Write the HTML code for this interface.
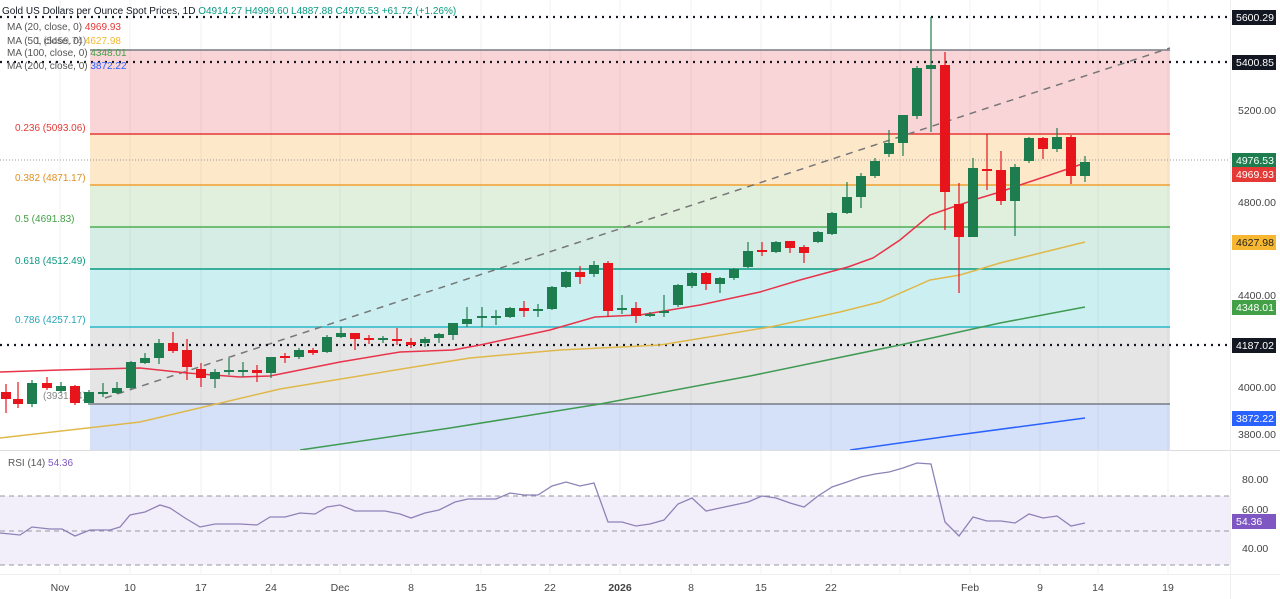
<!DOCTYPE html>
<html><head><meta charset="utf-8">
<style>
html,body{margin:0;padding:0;background:#fff;}
body{width:1280px;height:599px;overflow:hidden;font-family:"Liberation Sans",sans-serif;}
svg{display:block}
</style></head><body>
<svg id="c" width="1280" height="599" viewBox="0 0 1280 599" xmlns="http://www.w3.org/2000/svg" font-family="Liberation Sans, sans-serif">
<rect x="0" y="0" width="1280" height="599" fill="#fff"/>
<rect x="90" y="50" width="1080" height="84" fill="#f9d5d8"/>
<rect x="90" y="134" width="1080" height="51" fill="#fde8c9"/>
<rect x="90" y="185" width="1080" height="42" fill="#e1f0dc"/>
<rect x="90" y="227" width="1080" height="42" fill="#d5ede5"/>
<rect x="90" y="269" width="1080" height="58" fill="#ccf0f2"/>
<rect x="90" y="327" width="1080" height="77" fill="#e5e5e6"/>
<rect x="90" y="404" width="1080" height="46" fill="#d5e1f8"/>
<g id="grid" stroke="#000" stroke-opacity="0.05" stroke-width="1"></g>
<line x1="90" y1="50" x2="1170" y2="50" stroke="#787b86" stroke-width="1.5"/>
<line x1="90" y1="134" x2="1170" y2="134" stroke="#e53935" stroke-width="1.5"/>
<line x1="90" y1="185" x2="1170" y2="185" stroke="#f0a030" stroke-width="1.5"/>
<line x1="90" y1="227" x2="1170" y2="227" stroke="#4caf50" stroke-width="1.5"/>
<line x1="90" y1="269" x2="1170" y2="269" stroke="#089981" stroke-width="1.5"/>
<line x1="90" y1="327" x2="1170" y2="327" stroke="#26b8c8" stroke-width="1.5"/>
<line x1="90" y1="404" x2="1170" y2="404" stroke="#787b86" stroke-width="1.5"/>
<line x1="0" y1="160" x2="1230" y2="160" stroke="#999" stroke-width="1" stroke-dasharray="1,2"/>
<g fill="#555" font-size="10">
<text x="15" y="131" fill="#e53935">0.236 (5093.06)</text>
<text x="15" y="181" fill="#e09020">0.382 (4871.17)</text>
<text x="15" y="222" fill="#43a047">0.5 (4691.83)</text>
<text x="15" y="264" fill="#089981">0.618 (4512.49)</text>
<text x="15" y="323" fill="#26a6b8">0.786 (4257.17)</text>
<text x="43" y="399" fill="#888">(3931.74)</text>
<text x="35" y="44" fill="#888">1 (5459.74)</text>
</g>
<line x1="105" y1="398" x2="1170" y2="48" stroke="#777" stroke-width="1.5" stroke-dasharray="7,6"/>
<g stroke="#131722" stroke-width="2.2" stroke-dasharray="2,5">
<line x1="0" y1="17" x2="1228" y2="17"/>
<line x1="0" y1="62" x2="1228" y2="62"/>
<line x1="0" y1="345" x2="1228" y2="345"/>
</g>
<g id="mas" fill="none" stroke-width="1.5"></g>
<g id="candles"></g>
<line x1="0" y1="450.5" x2="1280" y2="450.5" stroke="#ddd"/>
<line x1="1230.5" y1="0" x2="1230.5" y2="599" stroke="#eee"/>
<line x1="0" y1="574.5" x2="1280" y2="574.5" stroke="#eee"/>
<rect x="0" y="496" width="1230" height="69" fill="#f3effa"/>
<g stroke="#9598a1" stroke-dasharray="5,4" stroke-width="1">
<line x1="0" y1="496" x2="1230" y2="496"/>
<line x1="0" y1="531" x2="1230" y2="531"/>
<line x1="0" y1="565" x2="1230" y2="565"/>
</g>
<polyline id="rsi" fill="none" stroke="#8e82b8" stroke-width="1.3"/>
<text x="8" y="466" font-size="10" fill="#555">RSI (14) <tspan fill="#7e57c2">54.36</tspan></text>
<g font-size="10">
<text x="2" y="14" fill="#131722">Gold US Dollars per Ounce Spot Prices, 1D <tspan fill="#089981">O4914.27 H4999.60 L4887.88 C4976.53 +61.72 (+1.26%)</tspan></text>
<text x="7" y="30" fill="#555">MA (20, close, 0) <tspan fill="#e53935">4969.93</tspan></text>
<text x="7" y="44" fill="#555">MA (50, close, 0) <tspan fill="#f2b830">4627.98</tspan></text>
<text x="7" y="56" fill="#555">MA (100, close, 0) <tspan fill="#43a047">4348.01</tspan></text>
<text x="7" y="69" fill="#555">MA (200, close, 0) <tspan fill="#2962ff">3872.22</tspan></text>
</g>
<g font-size="10.5" fill="#444">
<text x="1238" y="114">5200.00</text>
<text x="1238" y="206">4800.00</text>
<text x="1238" y="299">4400.00</text>
<text x="1238" y="391">4000.00</text>
<text x="1238" y="438">3800.00</text>
<text x="1242" y="483">80.00</text>
<text x="1242" y="513">60.00</text>
<text x="1242" y="552">40.00</text>
</g>
<g font-size="10.5" fill="#fff">
<rect x="1232" y="10" width="44" height="15" fill="#131722"/><text x="1236" y="21">5600.29</text>
<rect x="1232" y="55" width="44" height="15" fill="#131722"/><text x="1236" y="66">5400.85</text>
<rect x="1232" y="153" width="44" height="15" fill="#1e7d4f"/><text x="1236" y="164">4976.53</text>
<rect x="1232" y="167" width="44" height="15" fill="#e53935"/><text x="1236" y="178">4969.93</text>
<rect x="1232" y="235" width="44" height="15" fill="#f7b731"/><text x="1236" y="246" fill="#222">4627.98</text>
<rect x="1232" y="300" width="44" height="15" fill="#43a047"/><text x="1236" y="311">4348.01</text>
<rect x="1232" y="338" width="44" height="15" fill="#131722"/><text x="1236" y="349">4187.02</text>
<rect x="1232" y="411" width="44" height="15" fill="#2962ff"/><text x="1236" y="422">3872.22</text>
<rect x="1232" y="514" width="44" height="15" fill="#7e57c2"/><text x="1236" y="525">54.36</text>
</g>
<g font-size="10.5" fill="#444" text-anchor="middle">
<text x="60" y="591">Nov</text><text x="130" y="591">10</text><text x="201" y="591">17</text><text x="271" y="591">24</text>
<text x="340" y="591">Dec</text><text x="411" y="591">8</text><text x="481" y="591">15</text><text x="550" y="591">22</text>
<text x="620" y="591" font-weight="bold">2026</text><text x="691" y="591">8</text><text x="761" y="591">15</text><text x="831" y="591">22</text>
<text x="970" y="591">Feb</text><text x="1040" y="591">9</text><text x="1098" y="591">14</text><text x="1168" y="591">19</text>
</g>
</svg>
<script>
var NS="http://www.w3.org/2000/svg";
function el(t,a,p){var e=document.createElementNS(NS,t);for(var k in a)e.setAttribute(k,a[k]);p.appendChild(e);return e;}
var g=document.getElementById('grid');
[60,130,201,271,340,411,481,550,620,691,761,831,900,970,1040,1098,1168].forEach(function(x){el('line',{x1:x,y1:0,x2:x,y2:574},g);});
var C=[[6,392,399,384,413,0],[18,399,404,382,408,0],[32,383,404,380,407,1],[47,383,388,377,390,0],[61,386,391,382,393,1],[75,386,403,385,405,0],[89,392,403,390,405,1],[103,392,394,383,397,1],[117,388,393,382,394,1],[131,362,388,361,389,1],[145,358,363,353,364,1],[159,343,358,339,364,1],[173,343,351,332,353,0],[187,350,367,339,380,0],[201,369,378,363,387,0],[215,372,379,369,388,1],[229,370,372,358,375,1],[243,370,372,362,377,1],[257,370,373,365,382,0],[271,357,373,357,378,1],[285,356,358,353,363,0],[299,350,357,348,359,1],[313,350,353,348,355,0],[327,337,352,335,353,1],[341,333,337,327,338,1],[355,333,339,333,350,0],[369,338,340,335,344,0],[383,338,340,336,343,1],[397,339,341,328,345,0],[411,342,345,338,348,0],[425,339,343,337,347,1],[439,334,338,333,343,1],[453,323,335,323,340,1],[467,319,324,307,327,1],[482,316,318,307,327,1],[496,316,318,310,325,1],[510,308,317,307,318,1],[524,308,311,301,317,0],[538,309,311,304,317,1],[552,287,309,286,310,1],[566,272,287,271,288,1],[580,272,277,266,284,0],[594,265,274,261,277,1],[608,263,311,261,317,0],[622,308,310,295,314,1],[636,308,316,302,323,0],[650,314,316,312,317,1],[664,311,313,295,317,1],[678,285,305,284,307,1],[692,273,286,272,288,1],[706,273,284,272,290,0],[720,278,284,277,293,1],[734,269,278,268,280,1],[748,251,267,242,268,1],[762,250,252,242,256,0],[776,242,252,241,253,1],[790,241,248,241,253,0],[804,247,253,245,263,0],[818,232,242,231,243,1],[832,213,234,212,235,1],[847,197,213,182,214,1],[861,176,197,173,208,1],[875,161,176,158,178,1],[889,143,154,130,157,1],[903,115,143,115,156,1],[917,68,116,66,119,1],[931,65,69,17,132,1],[945,65,192,52,230,0],[959,204,237,183,293,0],[973,168,237,158,237,1],[987,169,171,134,190,0],[1001,170,201,151,205,0],[1015,167,201,164,236,1],[1029,138,161,137,163,1],[1043,138,149,137,159,0],[1057,137,149,128,152,1],[1071,137,176,135,184,0],[1085,162,176,156,182,1]];
var cg=document.getElementById('candles');
C.forEach(function(c){var col=c[5]?'#1e7d4f':'#e8141c';
el('line',{x1:c[0],y1:c[3],x2:c[0],y2:c[4],stroke:col,'stroke-width':1.2},cg);
var h=Math.max(2,c[2]-c[1]);el('rect',{x:c[0]-5,y:c[1],width:10,height:h,fill:col},cg);});
var mg=document.getElementById('mas');
function pl(pts,col){el('polyline',{points:pts.map(function(p){return p.join(',')}).join(' '),stroke:col},mg);}
pl([[0,372],[60,370],[140,368],[187,373],[240,377],[270,376],[300,370],[340,362],[400,352],[453,350],[480,345],[550,330],[595,317],[640,315],[700,305],[760,292],[800,280],[848,267],[873,258],[900,240],[930,215],[950,208],[980,198],[1000,192],[1020,185],[1050,175],[1085,163]],'#e8334a');
pl([[0,438],[140,422],[280,389],[420,366],[470,358],[560,350],[660,345],[770,327],[840,312],[880,302],[930,280],[960,275],[1000,263],[1085,242]],'#e0b84a');
pl([[300,450],[450,428],[600,404],[750,376],[900,345],[1000,323],[1085,307]],'#3f9a52');
pl([[850,450],[950,436],[1085,418]],'#2962ff');
var R=[[0,533],[20,535],[32,527],[50,529],[62,529],[75,536],[90,530],[110,530],[120,527],[130,515],[145,512],[160,505],[170,508],[185,518],[200,527],[215,524],[240,524],[257,525],[270,517],[285,517],[300,513],[315,514],[327,507],[340,505],[355,511],[385,511],[400,514],[411,518],[425,513],[439,510],[455,502],[468,499],[496,499],[510,493],[524,495],[538,495],[552,486],[566,482],[580,486],[594,483],[608,522],[622,522],[636,526],[650,524],[664,520],[678,504],[692,498],[706,511],[720,508],[734,505],[748,502],[762,496],[776,498],[790,503],[804,507],[818,496],[832,487],[847,482],[861,477],[875,474],[889,472],[903,468],[917,463],[931,464],[945,522],[959,536],[973,517],[987,521],[1001,521],[1015,523],[1029,514],[1043,518],[1057,516],[1071,526],[1085,523]];
document.getElementById('rsi').setAttribute('points',R.map(function(p){return p.join(',')}).join(' '));
</script>
</body></html>
